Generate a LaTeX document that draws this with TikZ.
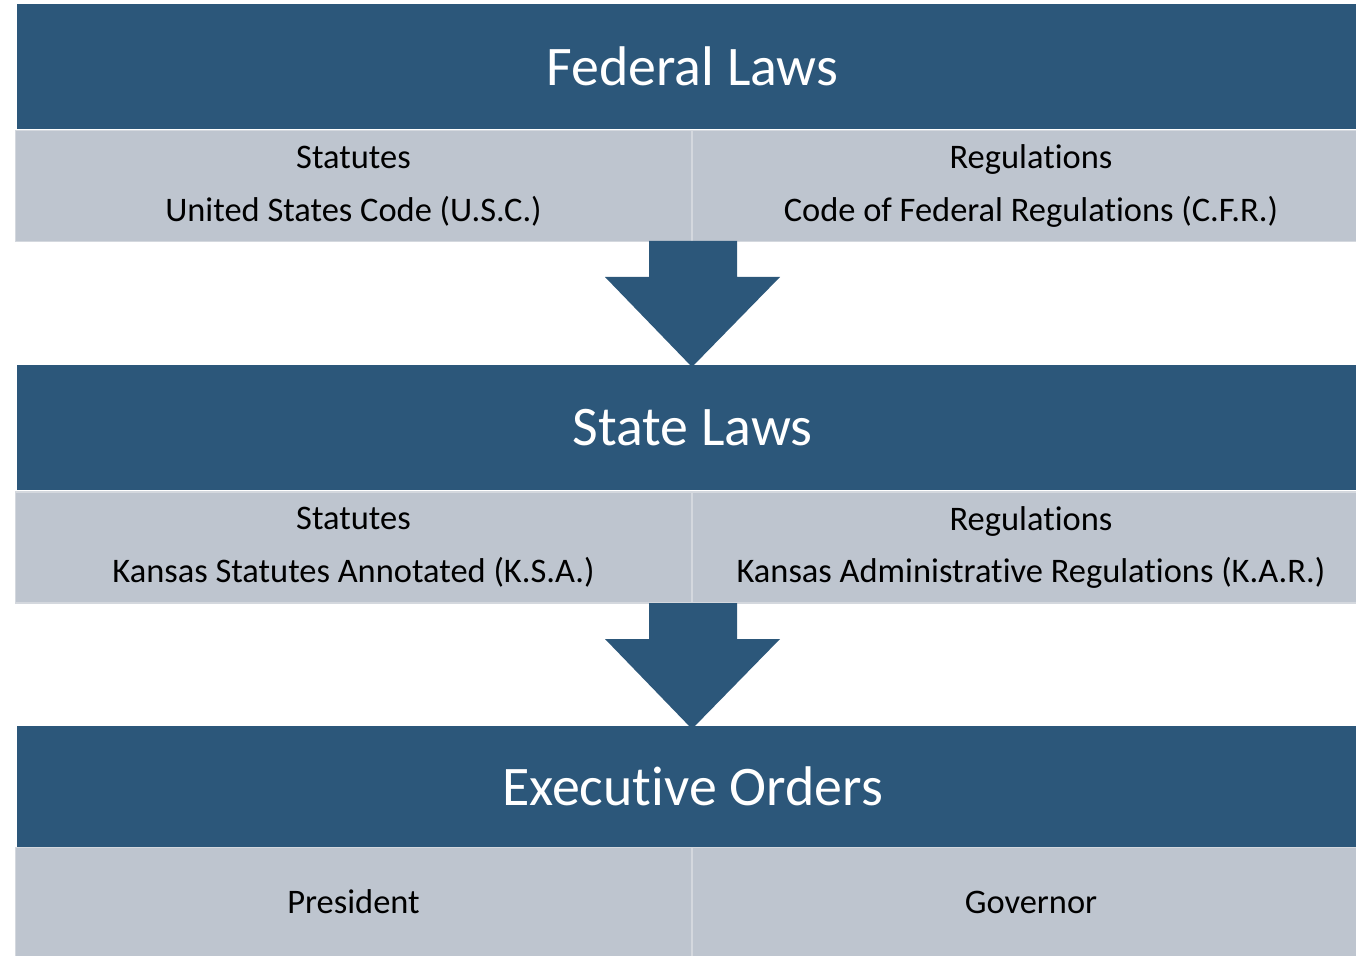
\documentclass[tikz,border=0pt]{standalone}
\usepackage{fontspec}
\setmainfont{Carlito}[Ligatures=NoCommon]
\usetikzlibrary{positioning}
\definecolor{bandblue}{RGB}{44,87,122}
\definecolor{cellgray}{RGB}{190,197,207}
\definecolor{celledge}{RGB}{212,216,222}

\begin{document}
\begin{tikzpicture}[x=0.02cm, y=-0.02cm,
	band/.style={fill=bandblue, minimum width=27.02cm, minimum height=2.5cm, inner sep=0pt, text=white, font=\fontsize{31.8}{36}\selectfont},
	cell/.style={fill=cellgray, draw=celledge, line width=0.6pt, minimum width=13.54cm, minimum height=2.22cm, inner sep=0pt, align=center, font=\fontsize{19.6}{30}\selectfont}]
			\useasboundingbox (0,0) rectangle (1356,956);
			
			% Federal level
			\node[band] (federal) at (692.5,66.5) {Federal Laws};
			\node[cell] (fedstat) at (353.5,186) {Statutes\\United States Code (U.S.C.)};
			\node[cell] (fedreg) at (1031,186) {Regulations\\Code of Federal Regulations (C.F.R.)};
			
			% State level
			\node[band] (state) at (692.5,427.5) {State Laws};
			\node[cell] (statestat) at (353.5,547.5) {Statutes\\Kansas Statutes Annotated (K.S.A.)};
			\node[cell] (statereg) at (1031,547.5) {Regulations\\Kansas Administrative Regulations (K.A.R.)};
			
			% Executive orders
			\node[band, minimum height=2.42cm] (exec) at (692.5,786.5) {Executive Orders};
			\node[cell, minimum height=2.18cm] (president) at (353.5,902) {President};
			\node[cell, minimum height=2.18cm] (governor) at (1031,902) {Governor};
			
			% Block arrows between the levels
			\foreach \y in {241,603}
				\fill[bandblue] (649,\y) -- (737,\y) -- (737,\y+36) -- (780,\y+36)
					-- (692,\y+126) -- (605,\y+36) -- (649,\y+36) -- cycle;
\end{tikzpicture}
\end{document}
